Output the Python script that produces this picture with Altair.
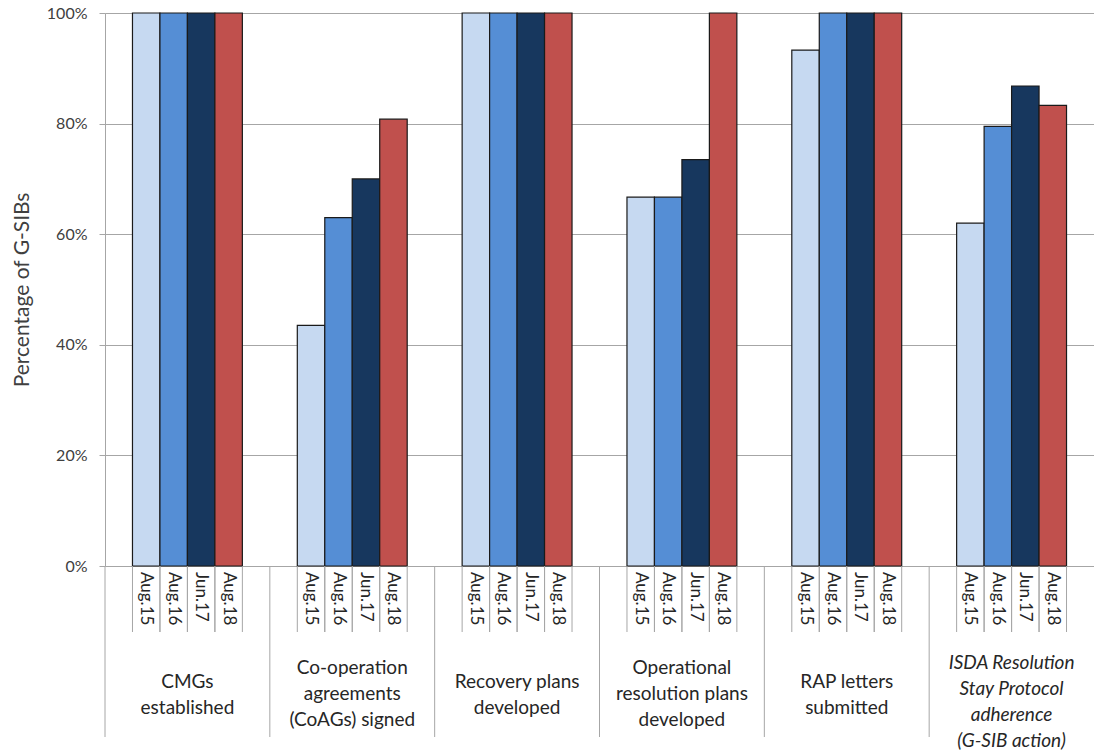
import altair as alt
import pandas as pd

groups = [
    "CMGs\nestablished",
    "Co-operation\nagreements\n(CoAGs) signed",
    "Recovery plans\ndeveloped",
    "Operational\nresolution plans\ndeveloped",
    "RAP letters\nsubmitted",
    "ISDA Resolution\nStay Protocol\nadherence\n(G-SIB action)",
]
italic_group = [False, False, False, False, False, True]
periods = ["Aug.15", "Aug.16", "Jun.17", "Aug.18"]
aug15 = [100, 43.5, 100, 66.7, 93.3, 62.0]
aug16 = [100, 63.0, 100, 66.7, 100, 79.5]
jun17 = [100, 70.0, 100, 73.5, 100, 86.8]
aug18 = [100, 80.8, 100, 100, 100, 83.3]
colors = ["#c6d9f1", "#558ed5", "#17375e", "#c0504d"]
y_ticks = [0, 20, 40, 60, 80, 100]

series = [aug15, aug16, jun17, aug18]
rows = []
for gi, g in enumerate(groups):
    for pi, p in enumerate(periods):
        rows.append({"group": g, "gi": gi, "period": p, "pi": pi, "value": series[pi][gi]})
df = pd.DataFrame(rows)
gdf = pd.DataFrame({
    "group": groups,
    "gi": list(range(len(groups))),
    "italic": italic_group,
    "nlines": [g.count("\n") + 1 for g in groups],
})

W, H = 989, 553
TOP = 13
FONT = "Lato"
GRAY = "#a6a6a6"
xscale = alt.Scale(domain=[0, 36], range=[0, W], nice=False, zero=False)

base = alt.Chart(df).transform_calculate(
    pos="datum.gi * 6 + datum.pi + 1",
    pos_end="datum.gi * 6 + datum.pi + 2",
    mid="datum.gi * 6 + datum.pi + 1.5",
)

bars = base.mark_bar(stroke="#1a1a1a", strokeWidth=1.2).encode(
    x=alt.X("pos:Q", scale=xscale, axis=None),
    x2="pos_end:Q",
    y=alt.Y(
        "value:Q",
        scale=alt.Scale(domain=[0, 100], nice=False),
        axis=alt.Axis(
            values=y_ticks,
            labelExpr="datum.value + '%'",
            title="Percentage of G-SIBs",
            titleFont=FONT,
            titleFontSize=21,
            titleFontWeight="normal",
            titleColor="#404040",
            titlePadding=14,
            labelFont=FONT,
            labelFontSize=16,
            labelColor="#404040",
            labelPadding=12,
            tickSize=6,
            tickColor=GRAY,
            domainColor=GRAY,
            gridColor=GRAY,
            gridWidth=1,
            grid=True,
        ),
    ),
    y2=alt.datum(0),
    color=alt.Color("period:N", scale=alt.Scale(domain=periods, range=colors), legend=None),
)

sep_left = base.mark_rule(color=GRAY, strokeWidth=1).encode(
    x=alt.X("pos:Q", scale=xscale),
    y=alt.value(H),
    y2=alt.value(H + 66),
)
sep_right = base.mark_rule(color=GRAY, strokeWidth=1).encode(
    x=alt.X("pos_end:Q", scale=xscale),
    y=alt.value(H),
    y2=alt.value(H + 66),
)
period_text = base.mark_text(
    angle=90, align="left", baseline="middle", font=FONT, fontSize=17, color="#262626"
).encode(
    x=alt.X("mid:Q", scale=xscale),
    y=alt.value(H + 6),
    text="period:N",
)

gbase = alt.Chart(gdf).transform_calculate(
    gpos="datum.gi * 6",
    gmid="datum.gi * 6 + 3",
)
group_sep = gbase.mark_rule(color=GRAY, strokeWidth=1).encode(
    x=alt.X("gpos:Q", scale=xscale),
    y=alt.value(H),
    y2=alt.value(H + 171),
)

first_line_y = {2: 682, 3: 668, 4: 663}
text_layers = []
for n, ypix in first_line_y.items():
    for it in (False, True):
        cond = f"datum.nlines == {n} && {'datum.italic' if it else '!datum.italic'}"
        kw = dict(fontStyle="italic") if it else {}
        text_layers.append(
            gbase.transform_filter(cond).mark_text(
                align="center", baseline="middle", font=FONT, fontSize=19,
                color="#262626", lineBreak="\n", lineHeight=26, **kw
            ).encode(
                x=alt.X("gmid:Q", scale=xscale),
                y=alt.value(ypix - TOP),
                text="group:N",
            )
        )

chart = alt.layer(
    bars, sep_left, sep_right, period_text, group_sep, *text_layers
).properties(
    width=W,
    height=H,
    autosize=alt.AutoSizeParams(type="none"),
    padding={"left": 105, "top": TOP, "right": 0, "bottom": 187},
).configure_view(stroke=None).configure(background="white")

chart.save("out.html", embed_options={"renderer": "svg", "actions": False})
